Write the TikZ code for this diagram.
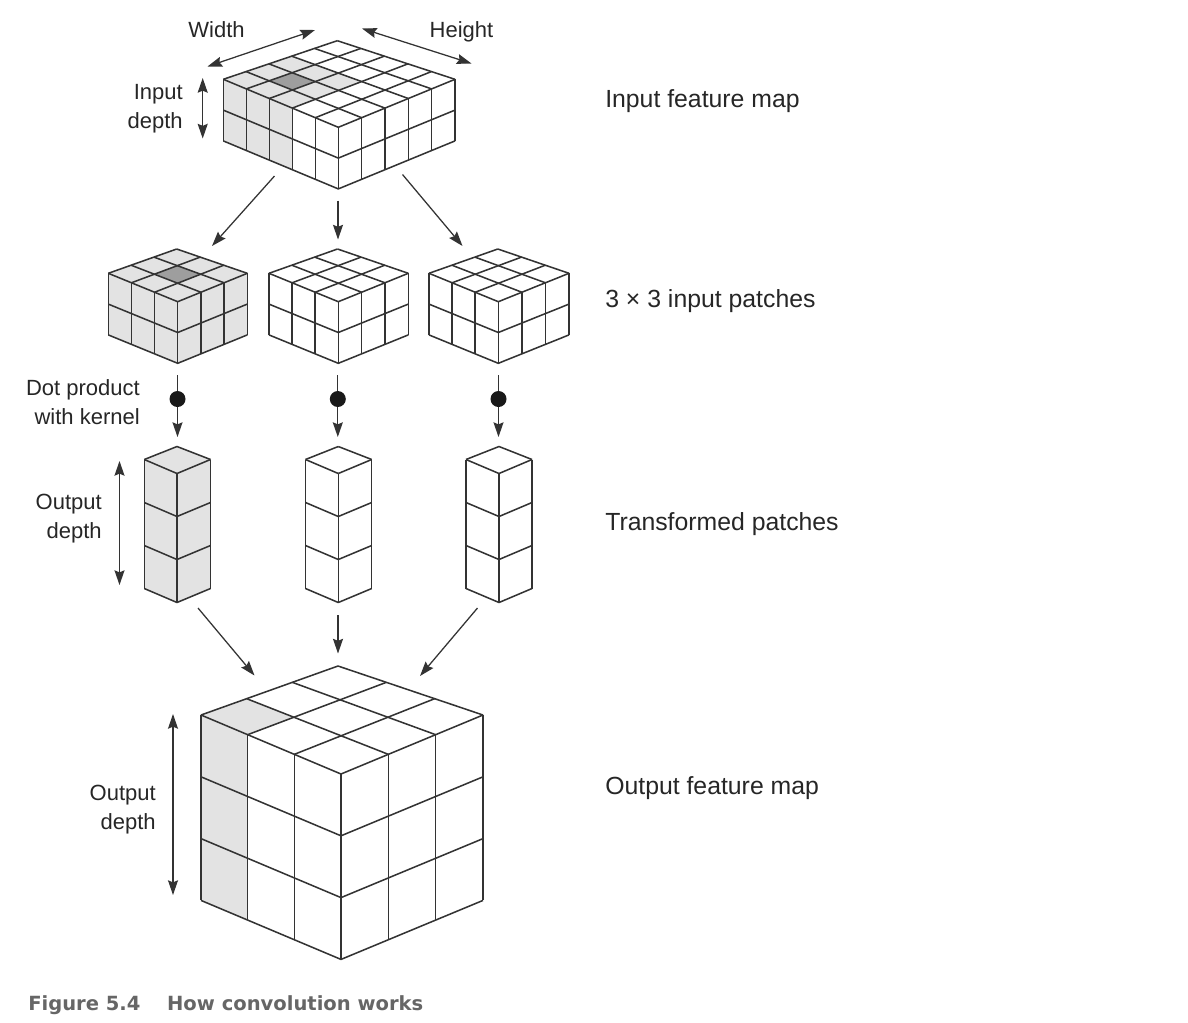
\documentclass[tikz,border=0pt]{standalone}
\usepackage{fontspec}
\setmainfont{Liberation Sans}
\newfontfamily\capfont{DejaVu Sans}
\usetikzlibrary{arrows.meta,calc}
\definecolor{lightcell}{HTML}{E3E3E3}
\definecolor{darkcell}{HTML}{9E9E9E}
\definecolor{inkline}{HTML}{333333}
\definecolor{capgray}{HTML}{666666}
\tikzset{
  gridline/.style={draw=inkline,line width=1.15pt,line join=round},
  onearrow/.style={draw=inkline,line width=0.95pt,-{Stealth[length=11pt,width=7.5pt,inset=1.5pt]}},
  twoarrow/.style={draw=inkline,line width=0.95pt,{Stealth[length=11pt,width=7.5pt,inset=1.5pt]}-{Stealth[length=11pt,width=7.5pt,inset=1.5pt]}},
  sidelabel/.style={font=\fontsize{18.6}{21}\selectfont,anchor=west,inner sep=0pt,text=black!85},
  smalllabel/.style={font=\fontsize{16.5}{21}\selectfont,inner sep=0pt,text=black!85},
  dotnode/.style={circle,fill=black!90,inner sep=0pt,minimum size=12pt}
}
\newcommand{\topcorner}[3]{($($(#1l)!#2!(#1f)$)!#3!($(#1b)!#2!(#1r)$)$)}
\newcommand{\topcell}[5]{
  \pgfmathsetmacro{\ua}{#2/#4}
  \pgfmathsetmacro{\ub}{(#2+1)/#4}
  \pgfmathsetmacro{\va}{#3/#4}
  \pgfmathsetmacro{\vb}{(#3+1)/#4}
  \fill[#5] \topcorner{#1}{\ua}{\va} -- \topcorner{#1}{\ub}{\va} -- \topcorner{#1}{\ub}{\vb} -- \topcorner{#1}{\ua}{\vb} -- cycle;
}
\newcommand{\shadeside}[5]{
  \fill[lightcell] (#1l) -- ($(#1l)!#2/#3!(#1f)$) -- ++(0,#4*#5) -- ($(#1l)+(0,#4*#5)$) -- cycle;
}
\newcommand{\cubelines}[4]{
  \foreach \i in {0,...,#2}
  {
    \draw[gridline] ($(#1l)!\i/#2!(#1f)$) -- ($(#1b)!\i/#2!(#1r)$);
    \draw[gridline] ($(#1l)!\i/#2!(#1b)$) -- ($(#1f)!\i/#2!(#1r)$);
    \draw[gridline] ($(#1l)!\i/#2!(#1f)$) -- ++(0,#3*#4);
    \draw[gridline] ($(#1f)!\i/#2!(#1r)$) -- ++(0,#3*#4);
  }
  \foreach \k in {1,...,#3}
  {
    \draw[gridline] ($(#1l)+(0,\k*#4)$) -- ($(#1f)+(0,\k*#4)$) -- ($(#1r)+(0,\k*#4)$);
  }
}
\begin{document}
\begin{tikzpicture}[x=0.75pt,y=-0.75pt]
\useasboundingbox (0,0) rectangle (1188,1022);

\coordinate (inl) at (223.3,79.3);
\coordinate (inf) at (338.3,127.3);
\coordinate (inr) at (455,79.3);
\coordinate (inb) at (337.3,40.7);
\shadeside{in}{3}{5}{2}{30.8}
\foreach \i in {0,1,2}
{
  \foreach \j in {0,1,2}
  {
    \topcell{in}{\i}{\j}{5}{lightcell}
  }
}
\topcell{in}{1}{1}{5}{darkcell}
\cubelines{in}{5}{2}{30.8}

\foreach \name/\lx/\fx/\rx/\bx in {pa/108.3/177.7/247.3/176.7,pb/269/338.3/408.3/337.5,pc/429/498.3/569/497.8}
{
  \coordinate (\name l) at (\lx,273.3);
  \coordinate (\name f) at (\fx,301.7);
  \coordinate (\name r) at (\rx,273.3);
  \coordinate (\name b) at (\bx,249);
}
\shadeside{pa}{3}{3}{2}{30.8}
\fill[lightcell] (pal) -- (paf) -- (par) -- (pab) -- cycle;
\fill[lightcell] (paf) -- (par) -- ++(0,61.6) -- ($(paf)+(0,61.6)$) -- cycle;
\topcell{pa}{1}{1}{3}{darkcell}
\cubelines{pa}{3}{2}{30.8}
\cubelines{pb}{3}{2}{30.8}
\cubelines{pc}{3}{2}{30.8}

\foreach \name/\lx/\fx/\rx in {sa/144.3/177/210.5,sb/305.5/338.3/371.7,sc/466/499/532}
{
  \coordinate (\name l) at (\lx,459.5);
  \coordinate (\name f) at (\fx,473.5);
  \coordinate (\name r) at (\rx,459.5);
  \coordinate (\name b) at (\fx,446.5);
}
\shadeside{sa}{1}{1}{3}{43}
\fill[lightcell] (saf) -- (sar) -- ++(0,129) -- ($(saf)+(0,129)$) -- cycle;
\topcell{sa}{0}{0}{1}{lightcell}
\cubelines{sa}{1}{3}{43}
\cubelines{sb}{1}{3}{43}
\cubelines{sc}{1}{3}{43}

\coordinate (outl) at (201,715);
\coordinate (outf) at (341,774);
\coordinate (outr) at (483,715);
\coordinate (outb) at (338,666);
\shadeside{out}{1}{3}{3}{61.8}
\topcell{out}{0}{0}{3}{lightcell}
\cubelines{out}{3}{3}{61.8}

\coordinate (w1) at (315,30);
\coordinate (w2) at (207.5,66.5);
\coordinate (h1) at (362,28.5);
\coordinate (h2) at (471.5,63.5);
\coordinate (d1) at (202.7,78);
\coordinate (d2) at (202.7,138.5);
\draw[twoarrow] (w1) -- (w2);
\draw[twoarrow] (h1) -- (h2);
\draw[twoarrow] (d1) -- (d2);

\foreach \name/\xa/\ya/\xb/\yb in {m1/274.5/176/212/246,m2/338/200.5/338/239.5,m3/402.5/174.5/462.5/246,t1/198/608/254.5/675.5,t2/338/615/338/653.5,t3/477.5/608/420/676}
{
  \coordinate (\name a) at (\xa,\ya);
  \coordinate (\name b) at (\xb,\yb);
  \draw[onearrow] (\name a) -- (\name b);
}

\foreach \name/\x in {k1/177.5,k2/337.8,k3/498.5}
{
  \coordinate (\name top) at (\x,375);
  \node[dotnode] (\name dot) at (\x,399) {};
  \coordinate (\name end) at (\x,437);
  \draw[inkline,line width=0.95pt] (\name top) -- (\name dot);
  \draw[onearrow] (\name dot) -- (\name end);
}

\coordinate (sd1) at (119.5,461);
\coordinate (sd2) at (119.5,585);
\draw[twoarrow] (sd1) -- (sd2);
\coordinate (od1) at (173,714);
\coordinate (od2) at (173,895);
\draw[twoarrow] (od1) -- (od2);

\node[smalllabel] (width) at (216.5,30) {Width};
\node[smalllabel] (height) at (461.5,32) {Height};
\node[smalllabel,align=right,anchor=east] (indepth) at (183,109) {Input\\[0.75pt]depth};
\node[smalllabel,align=right,anchor=east] (kernel) at (140,402) {Dot product\\[0.75pt]with kernel};
\node[smalllabel,align=right,anchor=east] (sdepth) at (102,519) {Output\\[0.75pt]depth};
\node[smalllabel,align=right,anchor=east] (odepth) at (156,810) {Output\\[0.75pt]depth};

\node[sidelabel] (lab1) at (605,101) {Input feature map};
\node[sidelabel] (lab2) at (605,301) {3 × 3 input patches};
\node[sidelabel] (lab3) at (605,524) {Transformed patches};
\node[sidelabel] (lab4) at (605,788) {Output feature map};

\node[anchor=west,inner sep=0pt,text=capgray,font=\capfont\bfseries\fontsize{14.65}{18}\selectfont] (cap) at (28,1005) {Figure 5.4\hspace{20pt}How convolution works};
\end{tikzpicture}
\end{document}
